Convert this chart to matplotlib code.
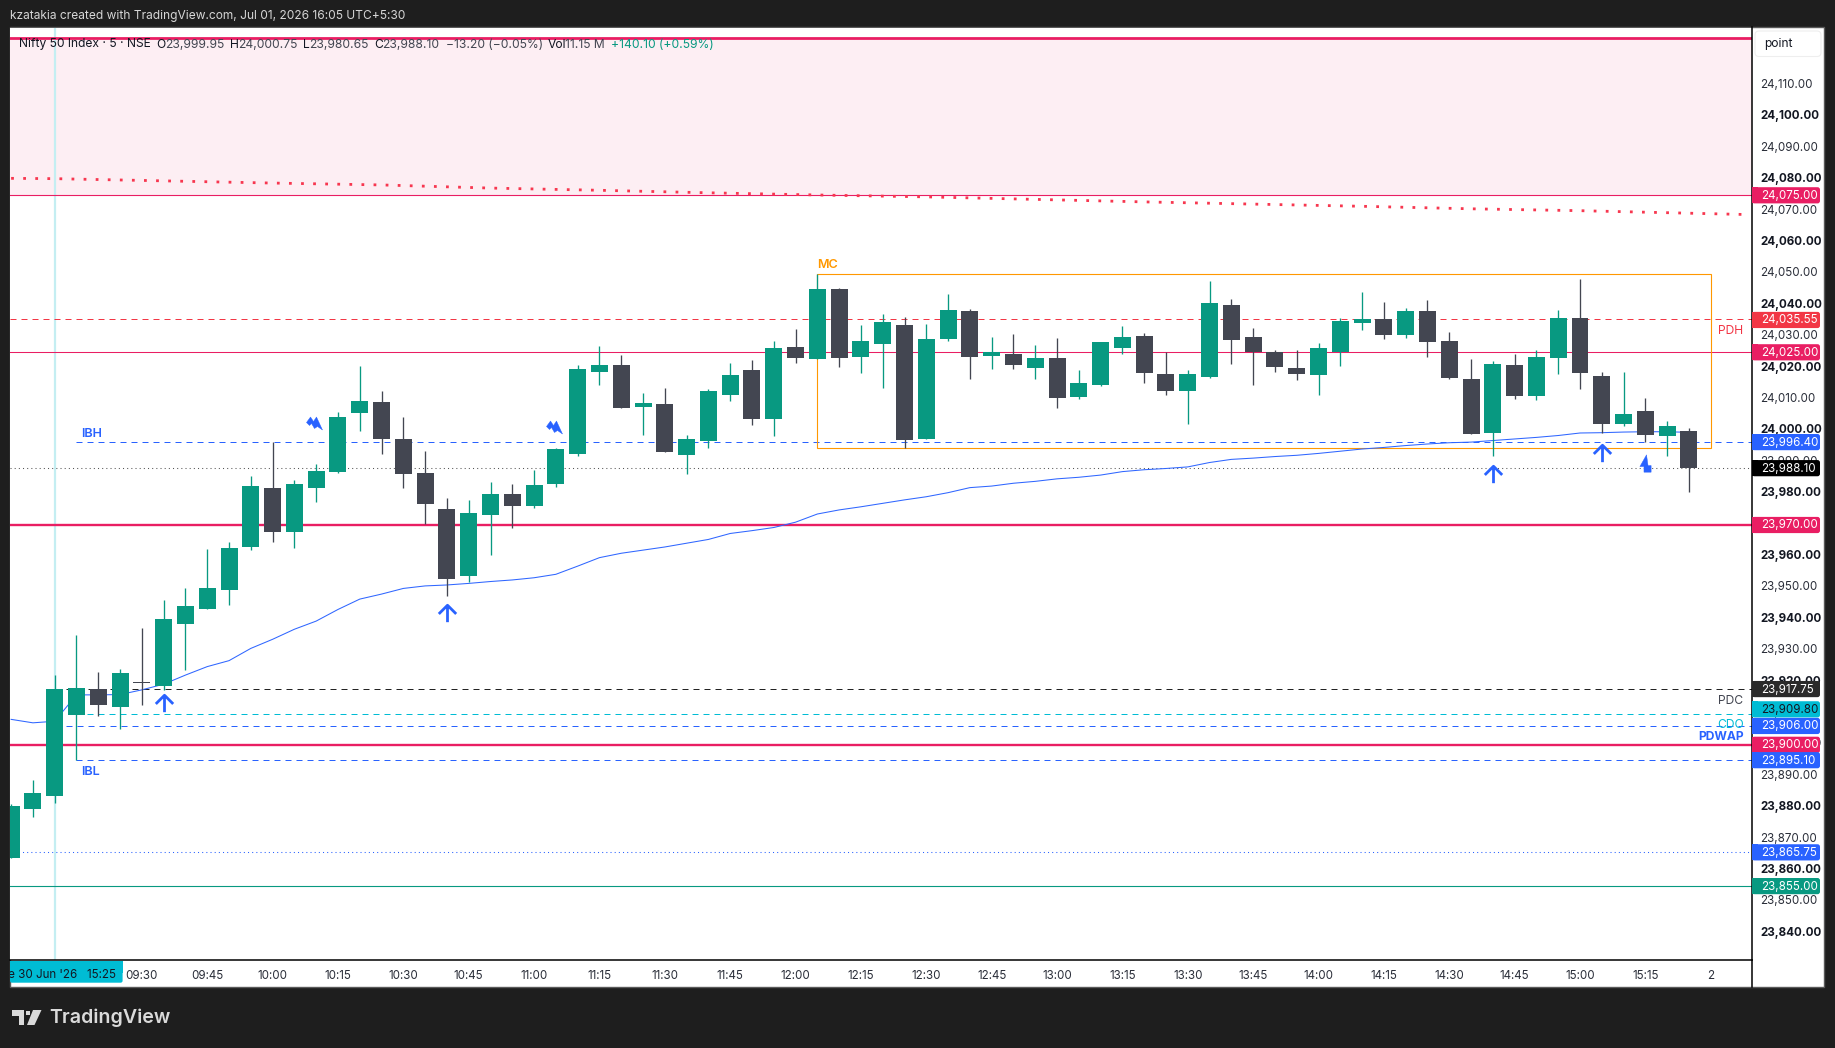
"""
Nifty 50 5 minute chart, TradingView snapshot look
"""

import matplotlib
matplotlib.use("Agg")
import numpy as np
import matplotlib.pyplot as plt
from matplotlib.lines import Line2D
from matplotlib.patches import FancyBboxPatch, Rectangle, Polygon
from matplotlib.path import Path
from matplotlib.transforms import IdentityTransform, Bbox, ScaledTranslation

plt.rcParams['font.family'] = ['Inter', 'DejaVu Sans']

W, H = 1835, 1048

# bar index 0 is 30 Jun 15:25, index 1 is 09:15 of the session shown
bar_index = list(range(-2, 76))
opens = [23864.1, 23879.6, 23883.7, 23909.5, 23917.8, 23912.0, 23920.0, 23918.7, 23938.5, 23943.2,
         23949.3, 23963.0, 23981.8, 23967.8, 23981.8, 23986.9, 24005.7, 24009.2, 23997.4, 23986.6,
         23975.1, 23953.8, 23973.2, 23979.9, 23976.1, 23983.1, 23992.6, 24018.7, 24021.0, 24007.6,
         24008.5, 23992.3, 23996.8, 24011.4, 24019.4, 24003.8, 24026.7, 24022.9, 24045.2, 24023.5,
         24027.6, 24033.7, 23997.4, 24029.2, 24038.2, 24023.8, 24024.5, 24020.0, 24023.2, 24010.8,
         24014.6, 24026.4, 24030.2, 24018.1, 24012.7, 24017.1, 24040.1, 24029.9, 24025.1, 24020.0,
         24017.8, 24025.1, 24034.3, 24035.6, 24030.5, 24038.2, 24028.6, 24016.5, 23999.3, 24021.0,
         24011.1, 24023.2, 24035.9, 24017.5, 24002.2, 24006.3, 23998.3, 23999.95]
highs = [23881.2, 23888.8, 23922.2, 23935.0, 23923.2, 23924.1, 23937.2, 23946.1, 23949.9, 23962.4,
         23964.6, 23985.6, 23996.3, 23984.3, 23989.4, 24006.0, 24020.6, 24012.7, 24004.4, 23993.6,
         23978.6, 23978.0, 23983.7, 23983.1, 23987.5, 23994.5, 24021.0, 24026.9, 24024.1, 24012.0,
         24013.6, 23998.7, 24013.3, 24021.6, 24022.5, 24028.6, 24032.4, 24049.9, 24045.5, 24033.7,
         24037.2, 24036.2, 24034.0, 24043.6, 24038.8, 24029.9, 24030.8, 24027.3, 24029.6, 24019.4,
         24028.3, 24033.4, 24031.1, 24025.1, 24019.4, 24047.7, 24042.0, 24032.7, 24025.7, 24025.7,
         24028.0, 24035.9, 24044.2, 24041.0, 24039.1, 24041.7, 24031.5, 24022.9, 24022.2, 24024.5,
         24025.7, 24038.5, 24048.3, 24018.7, 24018.7, 24010.4, 24003.1, 24000.75]
lows = [23864.1, 23877.0, 23881.5, 23895.1, 23909.2, 23905.1, 23912.7, 23917.5, 23923.8, 23943.2,
        23944.5, 23962.0, 23964.6, 23962.7, 23977.3, 23986.6, 23999.9, 23992.6, 23981.8, 23970.3,
        23947.4, 23951.8, 23960.4, 23969.0, 23975.4, 23982.1, 23992.0, 24014.6, 24007.3, 23998.7,
        23993.2, 23986.2, 23994.5, 24009.5, 24001.8, 23998.3, 24021.6, 24022.9, 24020.3, 24018.4,
        24013.6, 23994.5, 23997.4, 24028.6, 24016.5, 24019.7, 24019.7, 24016.5, 24007.3, 24010.1,
        24014.3, 24024.5, 24015.2, 24011.4, 24002.2, 24016.8, 24021.3, 24014.6, 24018.7, 24016.2,
        24011.4, 24020.6, 24032.1, 24029.2, 24029.6, 24023.5, 24016.5, 23999.0, 23992.0, 24010.1,
        24009.8, 24018.1, 24013.3, 23999.3, 24001.5, 23996.4, 23992.0, 23980.65]
closes = [23880.5, 23884.7, 23917.8, 23918.1, 23912.7, 23922.9, 23919.6, 23940.1, 23944.2, 23949.9,
          23962.7, 23982.4, 23967.8, 23983.1, 23987.2, 24004.4, 24009.5, 23997.4, 23986.2, 23976.7,
          23952.8, 23973.8, 23979.9, 23976.1, 23982.7, 23994.2, 24019.7, 24021.0, 24007.3, 24008.9,
          23993.2, 23997.4, 24012.7, 24017.8, 24003.8, 24026.4, 24023.2, 24045.2, 24023.2, 24028.6,
          24034.7, 23997.1, 24029.2, 24038.5, 24023.5, 24025.1, 24021.0, 24023.2, 24010.4, 24015.2,
          24028.3, 24029.9, 24018.4, 24012.7, 24018.1, 24040.7, 24028.9, 24025.1, 24020.3, 24018.1,
          24026.4, 24035.0, 24035.6, 24030.5, 24038.2, 24028.3, 24016.8, 23999.0, 24021.3, 24011.1,
          24023.5, 24035.9, 24018.4, 24002.2, 24005.4, 23998.7, 24001.5, 23988.10]
vwap = [23908.1, 23907.0, 23907.5, 23915.9, 23915.9, 23916.0, 23917.5, 23919.3, 23922.2, 23924.9,
        23926.8, 23930.7, 23933.6, 23936.8, 23939.4, 23943.1, 23946.4, 23948.0, 23949.8, 23950.6,
        23950.9, 23951.4, 23952.0, 23952.5, 23953.2, 23954.3, 23956.9, 23959.6, 23961.0, 23962.0,
        23963.0, 23964.2, 23965.4, 23967.3, 23968.2, 23969.2, 23970.9, 23973.5, 23974.8, 23975.8,
        23976.9, 23978.0, 23979.0, 23980.3, 23981.9, 23982.4, 23983.3, 23983.9, 23984.7, 23985.2,
        23985.9, 23987.0, 23987.6, 23988.0, 23988.5, 23989.9, 23990.9, 23991.3, 23991.8, 23992.2,
        23992.8, 23993.5, 23994.2, 23994.7, 23995.3, 23995.8, 23996.2, 23996.4, 23996.9, 23997.4,
        23997.9, 23998.5, 23999.3, 23999.4, 23999.6, 23999.7, 23999.7, 23999.5]

band_index = [-2, 0, 5, 10, 15, 20, 25, 30, 35, 40, 45, 50, 55, 60, 65, 70, 75, 77.5]
band_values = [24080.4, 24080.3, 24079.6, 24078.9, 24078.3, 24077.3, 24076.6, 24075.8, 24075.1,
               24074.5, 24073.7, 24072.9, 24072.2, 24071.5, 24070.7, 24070.1, 24069.3, 24068.9]

time_ticks = [4, 7, 10, 13, 16, 19, 22, 25, 28, 31, 34, 37, 40, 43, 46, 49, 52, 55, 58, 61, 64, 67, 70, 73, 76]
time_labels = ["09:30", "09:45", "10:00", "10:15", "10:30", "10:45", "11:00", "11:15", "11:30", "11:45",
               "12:00", "12:15", "12:30", "12:45", "13:00", "13:15", "13:30", "13:45", "14:00", "14:15",
               "14:30", "14:45", "15:00", "15:15", "2"]
price_ticks = list(range(23840, 24120, 10))

tag_prices = [24075.00, 24035.55, 24025.00, 23996.40, 23988.10, 23970.00, 23917.75,
              23909.80, 23906.00, 23900.00, 23895.10, 23865.75, 23855.00]
tag_colors = ["#E91E63", "#F23645", "#E91E63", "#2962FF", "#000000", "#E91E63", "#2A2A2A",
              "#00BCD4", "#2962FF", "#E91E63", "#2962FF", "#2962FF", "#089981"]
tag_shift = [0, 0.8, 0, 0, 0, 0, 0, -4.7, 0, 0, 0, 0, 0]

up_arrows = [(5, 23913.3), (18, 23942.0), (66, 23986.2), (71, 23992.9)]
double_bolts = [(11.9, 24002.5), (22.9, 24001.2)]
single_bolts = [(72.97, 23989.8)]

GREEN = "#089981"
DARK = "#434651"
PINK = "#E91E63"
BLUE = "#2962FF"
RED = "#F23645"
CYAN = "#00BCD4"
ORANGE = "#FF9800"
CHROME = "#1E1E1E"

AXIS_FS = 8.35
X0 = 54.7  # pixel of bar 0
STEP = 21.79  # pixels per bar
DASH = (0, (6, 5))

fig = plt.figure(figsize=(W / 100, H / 100), dpi=100, facecolor=CHROME)

# white chart block with thin grey border
fig.add_artist(Rectangle((10 / W, 1 - 987 / H), 1814 / W, 960 / H, transform=fig.transFigure,
                         facecolor="white", edgecolor="#5a5a5a", linewidth=1, zorder=-1))

ax = fig.add_axes([10 / W, 1 - 960 / H, 1742 / W, 932.5 / H])
ax.set_facecolor("white")
ax.set_xlim((10 - X0) / STEP, (1752 - X0) / STEP)
ax.set_ylim(24075 - (960 - 195.3) / 3.14, 24075 + (195.3 - 27.5) / 3.14)

for side in ("left", "top"):
    ax.spines[side].set_visible(False)
for side in ("right", "bottom"):
    ax.spines[side].set_color("black")
    ax.spines[side].set_linewidth(1.1)
fig.add_artist(Line2D([1752 / W, 1752 / W], [1 - 987 / H, 1 - 960 / H], color="black", linewidth=1.1))

# levels and zones, all under the candles
ax.axhspan(24075, 24125, color="#FDEEF3", linewidth=0, zorder=1)
ax.axvline(0, color="#C4EEF2", linewidth=1.6, zorder=1.2)
ax.axhline(24125, color=PINK, linewidth=2.0, zorder=1.5)
ax.axhline(24075, color=PINK, linewidth=0.8, zorder=1.5)
ax.axhline(24035.55, color=RED, linewidth=0.72, linestyle=DASH, zorder=1.5)
ax.axhline(24025, color=PINK, linewidth=0.75, zorder=1.5)
ax.axhline(23988.10, color="#555555", linewidth=0.75, linestyle=(0, (1, 3)), zorder=1.5)
ax.axhline(23970, color=PINK, linewidth=1.7, zorder=1.5)
ax.axhline(23900, color=PINK, linewidth=1.7, zorder=1.5)
ax.axhline(23865.75, color=BLUE, linewidth=0.75, linestyle=(0, (1, 3)), zorder=1.5)
ax.axhline(23855, color=GREEN, linewidth=0.8, zorder=1.5)

right_end = ax.get_xlim()[1]
ax.hlines(23996.40, 1, right_end, color=BLUE, linewidth=0.72, linestyles=[DASH], zorder=1.5)
ax.hlines(23917.75, 0.5, right_end, color="#222222", linewidth=0.72, linestyles=[DASH], zorder=1.5)
ax.hlines(23909.80, 1, right_end, color=CYAN, linewidth=0.72, linestyles=[DASH], zorder=1.5)
ax.hlines(23906.00, 0.5, right_end, color=BLUE, linewidth=0.72, linestyles=[DASH], zorder=1.5)
ax.hlines(23895.10, 1, right_end, color=BLUE, linewidth=0.72, linestyles=[DASH], zorder=1.5)

ax.add_patch(Rectangle((35, 23994.4), 41, 24049.85 - 23994.4, fill=False, edgecolor=ORANGE,
                       linewidth=0.8, zorder=1.6))

ax.plot(band_index, band_values, color="#F7374F", linewidth=2.0, linestyle=(0, (1, 3.35)),
        dash_capstyle="butt", zorder=1.7)
ax.plot(bar_index, vwap, color="#2F66FF", linewidth=0.75, zorder=1.8)

# candles
o = np.array(opens)
c = np.array(closes)
colors = [GREEN if b >= a else DARK for a, b in zip(opens, closes)]
ax.vlines(bar_index, lows, highs, colors=colors, linewidth=0.95, zorder=3)
ax.bar(bar_index, np.maximum(np.abs(c - o), 0.45), bottom=np.minimum(o, c), width=0.78,
       color=colors, linewidth=0, zorder=3.1)

# signal markers
arrow_path = Path([(0, -1), (0, 0.85), (-1, -0.05), (0, 0.95), (1, -0.05)],
                  [Path.MOVETO, Path.LINETO, Path.MOVETO, Path.LINETO, Path.LINETO])
for bx, by in up_arrows:
    ax.plot([bx], [by], marker=arrow_path, markersize=12.5, markeredgecolor=BLUE, markerfacecolor="none",
            markeredgewidth=2.0, linestyle="none", zorder=4)

double_pts = np.array([(-8, -1), (-4, -6.5), (-1, -2), (2, -6.5), (5, 0), (8, 6.5), (3, 3), (0, 5), (-3, 0), (-5, 2)], float)
double_pts[:, 1] *= -1
double_path = Path(np.vstack([double_pts, double_pts[0]]), closed=True)
for bx, by in double_bolts:
    ax.plot([bx], [by], marker=double_path, markersize=11.5, markerfacecolor=BLUE, markeredgecolor=BLUE,
            markeredgewidth=0.3, linestyle="none", zorder=4)

single_pts = np.array([(1, -8.5), (-5.5, 3), (-1.5, 3), (-1.5, 8.5), (5.5, 8.5), (5.5, 2), (2.5, 2)], float)
single_pts[:, 1] *= -1
single_path = Path(np.vstack([single_pts, single_pts[0]]), closed=True)
for bx, by in single_bolts:
    ax.plot([bx], [by], marker=single_path, markersize=12.5, markerfacecolor=BLUE, markeredgecolor=BLUE,
            markeredgewidth=0.3, linestyle="none", zorder=4)

# axes
ax.yaxis.tick_right()
ax.set_yticks(price_ticks)
ax.set_yticklabels([f"{v:,.2f}" for v in price_ticks])
ax.tick_params(axis="y", length=0, pad=6.2, labelsize=AXIS_FS)
nudge = ScaledTranslation(0, 1.4 / 72, fig.dpi_scale_trans)
for v, lab in zip(price_ticks, ax.get_yticklabels()):
    lab.set_fontweight("bold" if v % 20 == 0 else "normal")
    lab.set_color("#131722" if v % 20 == 0 else "#2a2e39")
    lab.set_transform(lab.get_transform() + nudge)
ax.set_xticks(time_ticks)
ax.set_xticklabels(time_labels, color="#2a2e39")
ax.tick_params(axis="x", length=0, pad=7.1, labelsize=AXIS_FS)

# text helpers in screen pixels, y counted from the top like the picture
def put(px, py, s, **kw):
    return ax.text(px, H - py, s, transform=IdentityTransform(), clip_on=False, zorder=12, **kw)

# price tags
fig.canvas.draw()
for price, col, shift in zip(tag_prices, tag_colors, tag_shift):
    yd = ax.transData.transform((0, price))[1]
    py = H - yd + shift
    ax.add_patch(FancyBboxPatch((1752, H - py - 8.1), 68, 16.2, boxstyle="round,pad=0,rounding_size=2.5",
                                transform=IdentityTransform(), facecolor=col, edgecolor="none",
                                clip_on=False, zorder=10))
    ax.add_patch(Rectangle((1752, H - py - 8.1), 6, 16.2, transform=IdentityTransform(), facecolor=col,
                           edgecolor="none", clip_on=False, zorder=10))
    txt = "#131722" if col == CYAN else "white"
    put(1760.7, py - 1.0, f"{price:,.2f}", color=txt, fontsize=AXIS_FS, va="center_baseline", ha="left")

# "point" box above the scale
ax.add_patch(FancyBboxPatch((1755, H - 56.5), 66, 25.5, boxstyle="round,pad=0,rounding_size=4",
                            transform=IdentityTransform(), facecolor="white", edgecolor="#eeeeee",
                            linewidth=0.8, clip_on=False, zorder=10))
put(1764, 43, "point", color="#131722", fontsize=8.7, va="center_baseline", ha="left")

# date tag on the time scale, cut off by the pane edge
ax.add_patch(FancyBboxPatch((10, H - 982.7), 112.6, 21.7, boxstyle="round,pad=0,rounding_size=2",
                            transform=IdentityTransform(), facecolor=CYAN, edgecolor="none",
                            clip_on=False, zorder=10))
ax.add_patch(Rectangle((10, H - 972.7), 112.6, 11.5, transform=IdentityTransform(), facecolor=CYAN,
                       edgecolor="none", clip_on=False, zorder=10))
date_txt = ax.text(X0, H - 973, "Tue 30 Jun '26   15:25", transform=IdentityTransform(), color="#131722",
                   fontsize=AXIS_FS, ha="center", va="center_baseline", zorder=12)
date_txt.set_clip_box(Bbox([[10, H - 990], [1752, H - 950]]))
date_txt.set_clip_on(True)

# legend line over the pink zone
legend_items = [(18.6, "Nifty 50 Index · 5 · NSE", "#131722"),
                (156.6, "O", "#131722"), (165, "23,999.95", "#434651"),
                (230, "H", "#131722"), (238, "24,000.75", "#434651"),
                (303, "L", "#131722"), (309.6, "23,980.65", "#434651"),
                (374.5, "C", "#131722"), (382.4, "23,988.10", "#434651"),
                (446, "−13.20 (−0.05%)", "#434651"),
                (547.7, "Vol", "#131722"), (564.6, "11.15 M", "#434651"),
                (611, "+140.10 (+0.59%)", GREEN)]
for lx, s, col in legend_items:
    put(lx, 43, s, color=col, fontsize=8.7, va="center_baseline", ha="left")

# level labels
put(81, 433.7, "IBH", color=BLUE, fontsize=9.1, fontweight="semibold", va="center", ha="left")
put(81, 772, "IBL", color=BLUE, fontsize=9.1, fontweight="semibold", va="center", ha="left")
put(817.5, 265.5, "MC", color=ORANGE, fontsize=9.1, fontweight="semibold", va="center", ha="left")
put(1743.5, 331, "PDH", color=RED, fontsize=8.7, va="center", ha="right")
put(1743.5, 701.3, "PDC", color="#434651", fontsize=8.7, va="center", ha="right")
put(1743.5, 725.5, "CDO", color=CYAN, fontsize=8.7, va="center", ha="right")
put(1743.5, 737.5, "PDWAP", color=BLUE, fontsize=8.7, fontweight="bold", va="center", ha="right")

# top and bottom chrome
fig.text(10 / W, 1 - 16 / H, "kzatakia created with TradingView.com, Jul 01, 2026 16:05 UTC+5:30",
         color="#D6D6D6", fontsize=8.6, va="center", ha="left")
fig.text(49.5 / W, 1 - 1018 / H, "TradingView", color="#DADADA", fontsize=14.1, fontweight="semibold",
         va="center", ha="left")

def fig_xy(px, py):
    return (px / W, 1 - py / H)

logo_col = "#DADADA"
fig.add_artist(Polygon([fig_xy(12, 1010), fig_xy(24, 1010), fig_xy(24, 1025), fig_xy(18.5, 1025),
                        fig_xy(18.5, 1015.5), fig_xy(12, 1015.5)], closed=True, facecolor=logo_col,
                       edgecolor="none", transform=fig.transFigure))
fig.add_artist(Polygon([fig_xy(33, 1010), fig_xy(41.5, 1010), fig_xy(34.5, 1025), fig_xy(27, 1025)],
                       closed=True, facecolor=logo_col, edgecolor="none", transform=fig.transFigure))
fig.add_artist(Polygon([fig_xy(25.8, 1010.5), fig_xy(30, 1010.5), fig_xy(30, 1015), fig_xy(25.8, 1015)],
                       closed=True, facecolor=logo_col, edgecolor="none", transform=fig.transFigure))

fig.savefig("out.png", dpi=100, facecolor=CHROME)
